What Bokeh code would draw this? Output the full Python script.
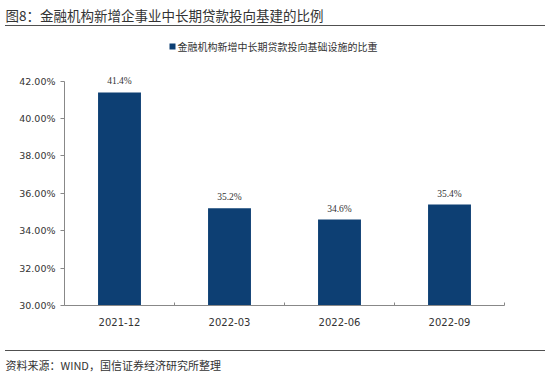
import numpy as np
from bokeh.plotting import figure
from bokeh.layouts import column
from bokeh.models import ColumnDataSource, FixedTicker, Range1d, LabelSet, Div
from bokeh.core.properties import value
from bokeh.embed import file_html
from bokeh.resources import INLINE

# ---- data ----
categories = ["2021-12", "2022-03", "2022-06", "2022-09"]
shares = [41.4, 35.2, 34.6, 35.4]
value_labels = ["41.4%", "35.2%", "34.6%", "35.4%"]
y_ticks = [30, 32, 34, 36, 38, 40, 42]
y_tick_labels = ["30.00%", "32.00%", "34.00%", "36.00%", "38.00%", "40.00%", "42.00%"]
title_text = "图8：金融机构新增企事业中长期贷款投向基建的比例"
legend_text = "金融机构新增中长期贷款投向基础设施的比重"
source_text = "资料来源：WIND，国信证券经济研究所整理"

BAR = "#0D3F73"
CJK = "Noto Sans CJK SC"
W = 550
RULE = "#505050"

def strip(h):
    """Strip of the page; x in page px, y in px from the strip bottom."""
    f = figure(width=W, height=h, output_backend="svg", toolbar_location=None,
               x_range=Range1d(0, W), y_range=Range1d(0, h),
               min_border=0, min_border_left=0, min_border_right=0,
               min_border_top=0, min_border_bottom=0)
    f.axis.visible = False
    f.grid.visible = False
    f.outline_line_color = None
    return f

def rule(top_gap):
    return Div(text='<div style="width:540px;height:1px;background-color:%s"></div>' % RULE,
               width=540, height=1, margin=(top_gap, 0, 0, 5),
               styles={"background-color": RULE, "overflow": "hidden"})

# ---- title strip (page y 0..25) ----
f1 = strip(25)
f1.text(x=[5], y=[25 - 14], text=[title_text], text_font=value(CJK), text_font_size="13.5px",
        text_color="#333333", text_baseline="middle", text_align="left")

# ---- rule at page y 25..26 ----
r1 = rule(0)

# ---- legend strip (page y 26..56) ----
f2 = strip(30)
f2.rect(x=[172], y=[10], width=6, height=6, fill_color=BAR, line_color=None)
f2.text(x=[177], y=[10], text=[legend_text], text_font=value(CJK), text_font_size="10px",
        text_color="#333333", text_baseline="middle", text_align="left")

# ---- main chart (page y 56..335) ----
n = len(categories)
centers = list(np.arange(n) + 0.5)
bounds = list(np.arange(n + 1).astype(float))
src = ColumnDataSource(dict(x=centers, top=shares, lab=value_labels))

p = figure(width=W, height=279, output_backend="svg", toolbar_location=None,
           x_range=Range1d(0, n), y_range=Range1d(30, 43),
           min_border_left=64, min_border_right=46, min_border_top=6, min_border_bottom=30)
p.vbar(x="x", top="top", bottom=30, width=0.39, source=src, fill_color=BAR, line_color=None)
labels = LabelSet(x="x", y="top", text="lab", source=src, text_font="DejaVu Sans",
                  text_font_size="9.5px", text_color="#333333", text_align="center",
                  text_baseline="bottom", y_offset=6)
p.add_layout(labels)

p.grid.visible = False
p.outline_line_color = None

p.yaxis.ticker = FixedTicker(ticks=y_ticks, minor_ticks=[])
p.yaxis.major_label_overrides = {t: l for t, l in zip(y_ticks, y_tick_labels)}
p.yaxis.bounds = (y_ticks[0], y_ticks[-1])
p.yaxis.major_tick_in = 0
p.yaxis.major_tick_out = 4

p.xaxis.ticker = FixedTicker(ticks=centers, minor_ticks=bounds)
p.xaxis.major_label_overrides = {c: cat for c, cat in zip(centers, categories)}
p.xaxis.minor_tick_in = 3
p.xaxis.minor_tick_out = 0
p.xaxis.major_label_standoff = 6

for ax in (p.xaxis, p.yaxis):
    ax.axis_line_color = "#888888"
    ax.major_label_text_font = "DejaVu Sans"
    ax.major_label_text_color = "#333333"
p.yaxis.major_tick_line_color = "#888888"
p.yaxis.minor_tick_line_color = None
p.xaxis.major_tick_line_color = None
p.xaxis.minor_tick_line_color = "#888888"
p.yaxis.major_label_text_font_size = "9.5px"
p.xaxis.major_label_text_font_size = "10px"

# ---- rule at page y 350..351 ----
r2 = rule(15)

# ---- footer strip (page y 351..376) ----
f3 = strip(25)
f3.text(x=[5], y=[25 - 13], text=[source_text], text_font=value(CJK), text_font_size="11px",
        text_color="#333333", text_baseline="middle", text_align="left")

layout = column(f1, r1, f2, column(p), r2, f3, spacing=0)
open("out.html", "w").write(file_html(layout, INLINE))
